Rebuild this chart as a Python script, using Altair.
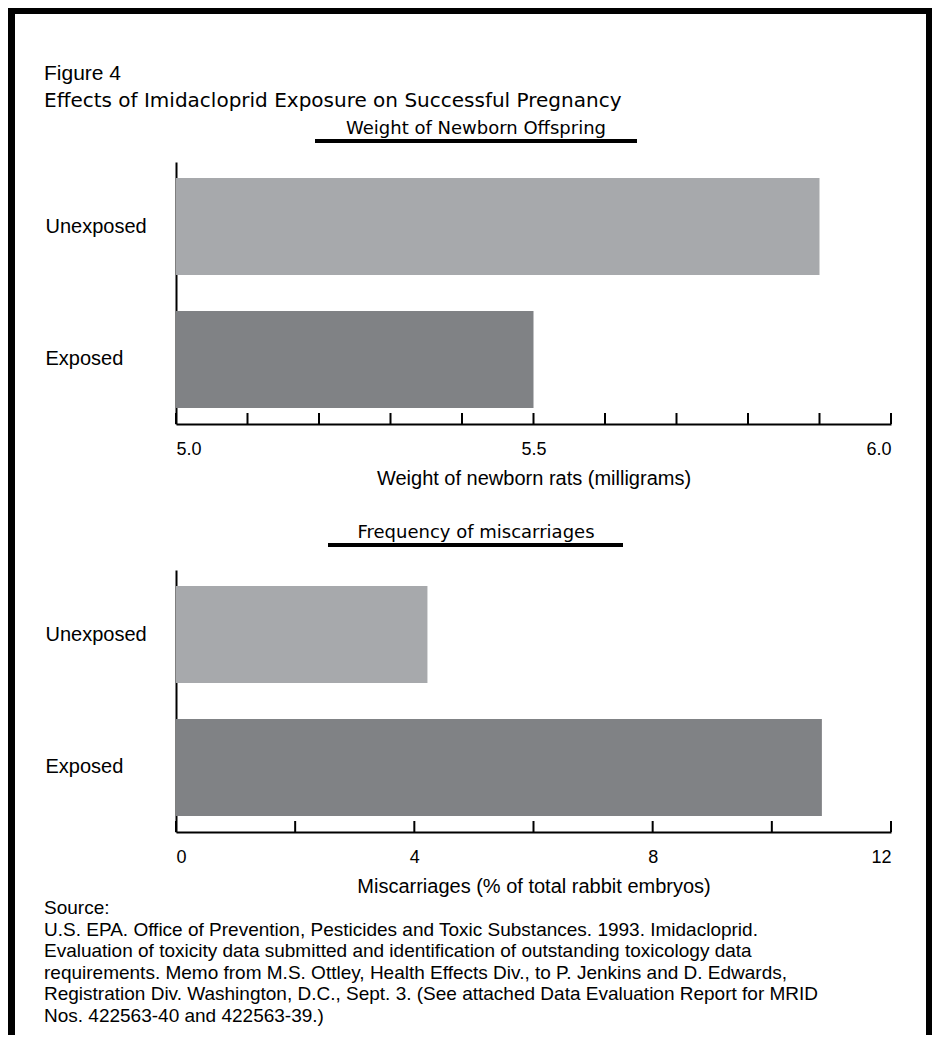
import altair as alt
import pandas as pd

# ---------------- data ----------------
categories = ["Unexposed", "Exposed"]
weight_mg = [5.90, 5.50]
miscarriage_pct = [4.22, 10.84]
bar_colors = ["#a7a9ac", "#808285"]

weight_ticks = [5.0, 5.1, 5.2, 5.3, 5.4, 5.5, 5.6, 5.7, 5.8, 5.9, 6.0]
weight_labels = [5.0, 5.5, 6.0]
miscarriage_ticks = [0, 2, 4, 6, 8, 10, 12]
miscarriage_labels = [0, 4, 8, 12]

figure_label = ["Figure 4"]
figure_title = ["Effects of Imidacloprid Exposure on Successful Pregnancy"]
panel_titles = ["Weight of Newborn Offspring", "Frequency of miscarriages"]
axis_titles = ["Weight of newborn rats (milligrams)",
               "Miscarriages (% of total rabbit embryos)"]
source_lines = [
    "Source:",
    "U.S. EPA. Office of Prevention, Pesticides and Toxic Substances. 1993. Imidacloprid.",
    "Evaluation of toxicity data submitted and identification of outstanding toxicology data",
    "requirements. Memo from M.S. Ottley, Health Effects Div., to P. Jenkins and D. Edwards,",
    "Registration Div. Washington, D.C., Sept. 3. (See attached Data Evaluation Report for MRID",
    "Nos. 422563-40 and 422563-39.)",
]

# ---------------- styling ----------------
W, H = 715, 262
FONT = "Liberation Sans"
TITLE_FONT = "DejaVu Sans"


def one_row():
    return pd.DataFrame({"k": [0]})


def text_layer(text, x, y, size, font=FONT, align="left", line_height=None):
    kw = dict(font=font, fontSize=size, align=align, baseline="alphabetic", color="black")
    if line_height:
        kw["lineHeight"] = line_height
    return alt.Chart(one_row()).mark_text(**kw).encode(
        text=alt.value(text), x=alt.value(x), y=alt.value(y))


def block(x, x2, y, y2):
    return alt.Chart(one_row()).mark_rect(color="black", strokeWidth=0).encode(
        x=alt.value(x), x2=alt.value(x2), y=alt.value(y), y2=alt.value(y2))


def panel(values, domain, ticks, labels, fmt, axis_title):
    bars_df = pd.DataFrame({"group": categories, "value": values,
                            "base": [domain[0]] * len(values)})
    xscale = alt.Scale(domain=domain, nice=False, zero=False)
    bars = alt.Chart(bars_df).mark_bar().encode(
        y=alt.Y("group:N", sort=categories, title=None,
                scale=alt.Scale(paddingInner=0.27, paddingOuter=0.12),
                axis=alt.Axis(ticks=False, domainColor="black", domainWidth=2,
                              labelAlign="left", labelPadding=131, labelFontSize=20,
                              labelColor="black", labelFont=FONT,
                              labelBaseline="middle")),
        x=alt.X("value:Q", scale=xscale,
                axis=alt.Axis(values=labels, format=fmt, labelFlush=True,
                              ticks=False, grid=False, domainColor="black",
                              domainWidth=2, labelPadding=16, labelFontSize=18,
                              labelColor="black", labelFont=FONT,
                              title=axis_title, titleFont=FONT, titleFontSize=20,
                              titleFontWeight="normal", titleColor="black",
                              titlePadding=10)),
        x2="base:Q",
        color=alt.Color("group:N", scale=alt.Scale(domain=categories, range=bar_colors),
                        legend=None),
    )
    tick_df = pd.DataFrame({"value": ticks})
    tick_rules = alt.Chart(tick_df).mark_rule(color="black", strokeWidth=2).encode(
        x=alt.X("value:Q", scale=xscale), y=alt.value(H - 11), y2=alt.value(H))
    return bars, tick_rules


bars1, ticks1 = panel(weight_mg, [5.0, 6.0], weight_ticks, weight_labels, ".1f", axis_titles[0])
bars2, ticks2 = panel(miscarriage_pct, [0, 12], miscarriage_ticks, miscarriage_labels, "d", axis_titles[1])

top = alt.layer(
    bars1, ticks1,
    text_layer(figure_label[0], -132, -82, 21),
    text_layer(figure_title[0], -132, -55, 20, font=TITLE_FONT),
    text_layer(panel_titles[0], 300, -28, 18, font=TITLE_FONT, align="center"),
    block(139, 461, -23, -19),
    # frame (left, top, right)
    block(-168, -161, -154, 873),
    block(-168, 756, -154, -148),
    block(750, 756, -154, 873),
).properties(width=W, height=H)

bottom = alt.layer(
    bars2, ticks2,
    text_layer(panel_titles[1], 300, -32, 18, font=TITLE_FONT, align="center"),
    block(152, 447, -27, -23),
    text_layer(source_lines, -132, 344, 19, line_height=21.6),
).properties(width=W, height=H)

chart = alt.vconcat(top, bottom, spacing=146, bounds="flush").properties(
    padding={"left": 0, "top": 0, "right": 0, "bottom": 0}
).configure(background="white").configure_view(stroke="transparent", strokeWidth=0)

chart.save("out.html", embed_options={"renderer": "svg", "actions": False})
